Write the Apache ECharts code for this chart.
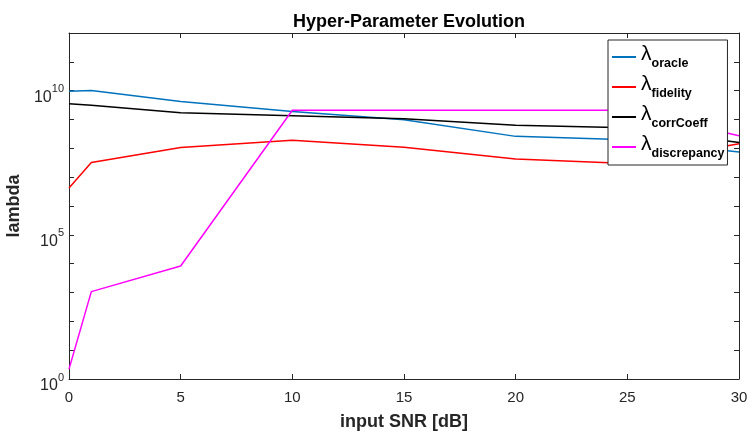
<!DOCTYPE html>
<html><head><meta charset="utf-8">
<script src="https://cdn.jsdelivr.net/npm/echarts@6/dist/echarts.min.js"></script>
<style>html,body{margin:0;padding:0;background:#fff}#c{width:755px;height:438px}</style>
</head><body><div id="c"></div>
<script>
const snr = [0, 1, 5, 10, 15, 20, 25, 30];
const oracle = [9.5e9, 1.02e10, 4.2e9, 1.9e9, 9.8e8, 2.6e8, 2.0e8, 7.4e7];
const fidelity = [4.2e6, 3.2e7, 1.07e8, 1.9e8, 1.1e8, 4.3e7, 3.0e7, 1.45e8];
const corrCoeff = [3.5e9, 3.1e9, 1.7e9, 1.35e9, 1.07e9, 6.3e8, 5.2e8, 1.6e8];
const discrepancy = [2.2, 1070, 8300, 2.1e9, 2.1e9, 2.1e9, 2.1e9, 2.75e8];
const names = ['oracle', 'fidelity', 'corrCoeff', 'discrepancy'];
const colors = ['#0072BD', '#FF0000', '#000000', '#FF00FF'];
const seriesData = [oracle, fidelity, corrCoeff, discrepancy];

const FONT = '"Liberation Sans", Arial, sans-serif';
const AX = '#262626';
const chart = echarts.init(document.getElementById('c'), null, {renderer: 'canvas'});
const grid = {left: 69, right: 16, top: 33, bottom: 59, containLabel: false, outerBoundsMode: 'none'};
const logFmt = v => {
  const e = Math.round(Math.log10(v));
  return e % 5 === 0 ? '{b|10}{sup|' + e + '}' : '';
};
chart.setOption({
  animation: false,
  backgroundColor: '#fff',
  title: {
    text: 'Hyper-Parameter Evolution', left: 404, top: 8, textAlign: 'center',
    textStyle: {fontFamily: FONT, fontSize: 18, fontWeight: 'bold', color: '#000'}
  },
  grid: grid,
  legend: {
    orient: 'vertical', left: 608, top: 40,
    padding: [4, 3, 4, 4],
    backgroundColor: '#fff', borderColor: AX, borderWidth: 1,
    icon: 'rect', itemWidth: 24, itemHeight: 2, itemGap: 3,
    data: names,
    formatter: n => '{l|λ}{s|' + n + '}',
    textStyle: {
      fontFamily: FONT, color: '#000',
      rich: {
        l: {fontSize: 21, fontFamily: FONT, lineHeight: 26, verticalAlign: 'top', padding: [0,0,6,0]},
        s: {fontSize: 12.5, fontWeight: 'bold', fontFamily: FONT, lineHeight: 26, padding: [13, 0, 0, 0]}
      }
    }
  },
  xAxis: [{
    type: 'value', min: 0, max: 30, interval: 5,
    name: 'input SNR [dB]', nameLocation: 'middle', nameGap: 34,
    nameTextStyle: {fontFamily: FONT, fontSize: 18, fontWeight: 'bold', color: AX},
    axisLine: {onZero: false, lineStyle: {color: AX, width: 1}},
    axisTick: {inside: true, length: 5, lineStyle: {color: AX}},
    axisLabel: {fontFamily: FONT, fontSize: 15, color: AX, margin: 11},
    splitLine: {show: false}
  }, {
    type: 'value', min: 0, max: 30, interval: 5, position: 'top',
    axisLine: {onZero: false, lineStyle: {color: AX, width: 1}},
    axisTick: {inside: true, length: 5, lineStyle: {color: AX}},
    axisLabel: {show: false}, splitLine: {show: false}
  }],
  yAxis: [{
    type: 'log', logBase: 10, min: 1, max: 1e12, interval: 1, position: 'left',
    name: 'lambda', nameLocation: 'middle', nameGap: 41,
    nameTextStyle: {fontFamily: FONT, fontSize: 18, fontWeight: 'bold', color: AX},
    axisLine: {show: true, onZero: false, lineStyle: {color: AX, width: 1}},
    axisTick: {show: true, inside: true, length: 5, lineStyle: {color: AX}},
    axisLabel: {
      formatter: logFmt, color: AX, margin: 5, padding: [8, 0, 0, 0],
      rich: {
        b: {fontSize: 16, fontFamily: FONT, color: AX, lineHeight: 22, verticalAlign: 'bottom'},
        sup: {fontSize: 11, fontFamily: FONT, color: AX, lineHeight: 22, verticalAlign: 'top'}
      }
    },
    splitLine: {show: false}
  }, {
    type: 'value', min: 0, max: 12, interval: 1, position: 'right',
    axisLine: {show: true, onZero: false, lineStyle: {color: AX, width: 1}},
    axisTick: {show: true, inside: true, length: 5, lineStyle: {color: AX}},
    axisLabel: {show: false}, splitLine: {show: false}
  }],
  series: names.map((n, i) => ({
    name: n, type: 'line', xAxisIndex: 0, yAxisIndex: 0,
    data: snr.map((x, j) => [x, seriesData[i][j]]),
    symbol: 'none', color: colors[i],
    lineStyle: {color: colors[i], width: 1.5},
    z: 2
  }))
});
</script></body></html>
